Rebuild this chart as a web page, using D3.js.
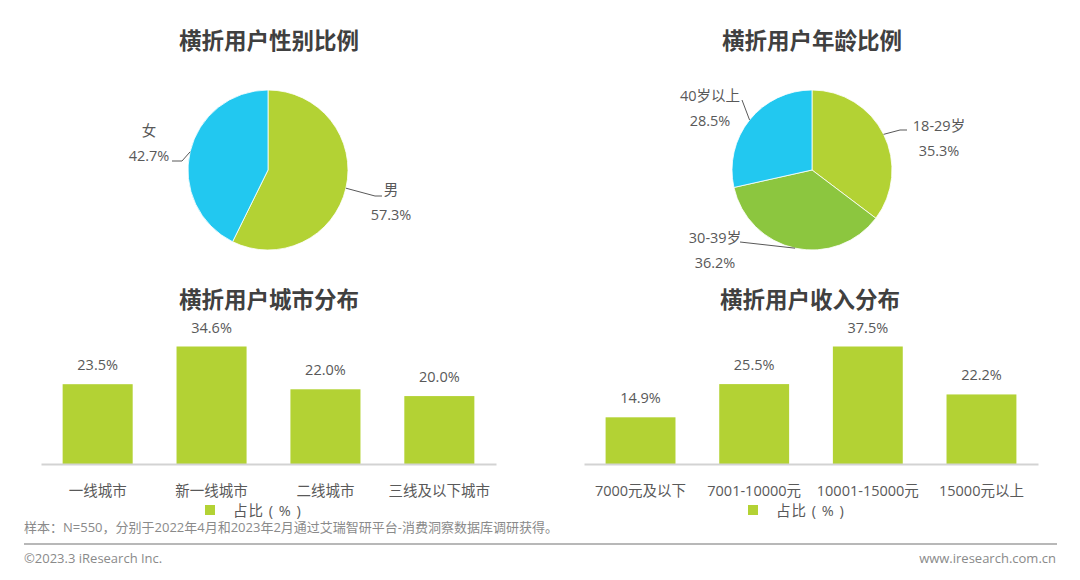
<!DOCTYPE html>
<html>
<head>
<meta charset="utf-8">
<script src="https://cdn.jsdelivr.net/npm/d3@7"></script>
<style>
  body { margin: 0; background: #fff; }
  svg { display: block; font-family: "Open Sans", "Noto Sans CJK SC", sans-serif; }
</style>
</head>
<body>
<div id="canvas"></div>
<script>
// data
var genderNames = ['男', '女'],
	genderValues = [57.3, 42.7],
	ageNames = ['18-29岁', '30-39岁', '40岁以上'],
	ageValues = [35.3, 36.2, 28.5],
	cityNames = ['一线城市', '新一线城市', '二线城市', '三线及以下城市'],
	cityValues = [23.5, 34.6, 22.0, 20.0],
	incomeNames = ['7000元及以下', '7001-10000元', '10001-15000元', '15000元以上'],
	incomeValues = [14.9, 25.5, 37.5, 22.2];

var green = '#b3d234',
	green2 = '#8cc63f',
	cyan = '#22c8f0',
	textColor = '#595959',
	titleColor = '#404040';

var svg = d3.select('#canvas').append('svg')
	.attr('width', 1080)
	.attr('height', 580);

function title(x, y, t) {
	svg.append('text')
		.attr('x', x).attr('y', y)
		.attr('text-anchor', 'middle')
		.attr('dominant-baseline', 'central')
		.attr('font-size', 22.5)
		.attr('font-weight', 'bold')
		.attr('fill', titleColor)
		.text(t);
}

// Pie with label blocks; lab = label center + leader elbow points
function pie(cx, cy, names, values, colors, labs) {
	var r = 80,
		g = svg.append('g').attr('transform', 'translate(' + cx + ',' + cy + ')'),
		arcs = d3.pie().sort(null)(values),
		arc = d3.arc().innerRadius(0).outerRadius(r),
		edge = d3.arc().innerRadius(r).outerRadius(r);

	g.selectAll('path')
		.data(arcs)
		.enter()
		.append('path')
		.attr('d', arc)
		.attr('fill', function(d, i) { return colors[i]; })
		.attr('stroke', '#fff')
		.attr('stroke-width', 0.8);

	arcs.forEach(function(d, i) {
		var p = edge.centroid(d),
			l = labs[i],
			pts = [p].concat(l.line.map(function(q) { return [q[0] - cx, q[1] - cy]; }));
		g.append('path')
			.attr('d', d3.line()(pts))
			.attr('fill', 'none')
			.attr('stroke', textColor)
			.attr('stroke-width', 1);
		var t = g.append('text')
			.attr('text-anchor', 'middle')
			.attr('font-size', 14.5)
			.attr('fill', textColor);
		t.append('tspan')
			.attr('x', l.x - cx).attr('y', l.y - cy + 5)
			.text(names[i]);
		t.append('tspan')
			.attr('x', l.x - cx).attr('y', l.y - cy + 30)
			.text(values[i].toFixed(1) + '%');
	});
}

title(269, 40, '横折用户性别比例');
title(812, 40, '横折用户年龄比例');

pie(268, 170, genderNames, genderValues, [green, cyan], [
	{ x: 391, y: 190, line: [[375, 196], [382, 196]] },
	{ x: 149, y: 131, line: [[182, 161], [172, 161]] }
]);

pie(812, 170, ageNames, ageValues, [green, green2, cyan], [
	{ x: 939, y: 126, line: [[900, 130], [907, 130]] },
	{ x: 715, y: 238, line: [[740, 242]] },
	{ x: 710, y: 96, line: [[742, 100]] }
]);

// Bar charts
function bars(x0, x1, names, values) {
	var base = 464,
		x = d3.scaleBand().domain(names).range([x0, x1]).paddingInner(0.385).paddingOuter(0.19),
		y = d3.scaleLinear().domain([0, d3.max(values)]).range([base, 346.5]),
		g = svg.append('g');

	g.selectAll('rect')
		.data(values)
		.enter()
		.append('rect')
		.attr('x', function(d, i) { return x(names[i]); })
		.attr('y', function(d) { return y(d); })
		.attr('width', x.bandwidth())
		.attr('height', function(d) { return base - y(d); })
		.attr('fill', green);

	g.selectAll('text.val')
		.data(values)
		.enter()
		.append('text')
		.attr('class', 'val')
		.attr('x', function(d, i) { return x(names[i]) + x.bandwidth() / 2; })
		.attr('y', function(d) { return y(d) - 14; })
		.attr('text-anchor', 'middle')
		.attr('font-size', 14.5)
		.attr('fill', textColor)
		.text(function(d) { return d.toFixed(1) + '%'; });

	var axis = g.append('g')
		.attr('transform', 'translate(0,' + base + ')')
		.call(d3.axisBottom(x).tickSize(0).tickPadding(22));
	axis.select('.domain').attr('stroke', '#d3d3d3').attr('stroke-width', 2);
	axis.selectAll('text')
		.attr('font-size', 14.5)
		.attr('fill', textColor)
		.attr('font-family', '"Open Sans", "Noto Sans CJK SC", sans-serif');
}

title(269, 299, '横折用户城市分布');
title(810, 299, '横折用户收入分布');

bars(41, 496, cityNames, cityValues);
bars(584, 1038, incomeNames, incomeValues);

// legends
[[205, 510], [748, 510]].forEach(function(p) {
	svg.append('rect')
		.attr('x', p[0]).attr('y', p[1] - 5)
		.attr('width', 10).attr('height', 10)
		.attr('fill', green);
	svg.append('text')
		.attr('x', p[0] + 28).attr('y', p[1] + 5.5)
		.attr('font-size', 14.5)
		.attr('fill', textColor)
		.attr('letter-spacing', 1)
		.attr('xml:space', 'preserve')
		.text('占比 ( % )');
});

// footnotes
svg.append('text')
	.attr('x', 24).attr('y', 531.5)
	.attr('font-size', 13)
	.attr('fill', '#8a8a8a')
	.text('样本：N=550，分别于2022年4月和2023年2月通过艾瑞智研平台-消费洞察数据库调研获得。');

svg.append('line')
	.attr('x1', 24).attr('x2', 1057)
	.attr('y1', 544).attr('y2', 544)
	.attr('stroke', '#a0a0a0')
	.attr('stroke-width', 1.5);

svg.append('text')
	.attr('x', 24).attr('y', 563)
	.attr('font-size', 13)
	.attr('fill', '#8a8a8a')
	.text('©2023.3 iResearch Inc.');

svg.append('text')
	.attr('x', 1056).attr('y', 563)
	.attr('text-anchor', 'end')
	.attr('font-size', 13)
	.attr('fill', '#8a8a8a')
	.text('www.iresearch.com.cn');
</script>
</body>
</html>
